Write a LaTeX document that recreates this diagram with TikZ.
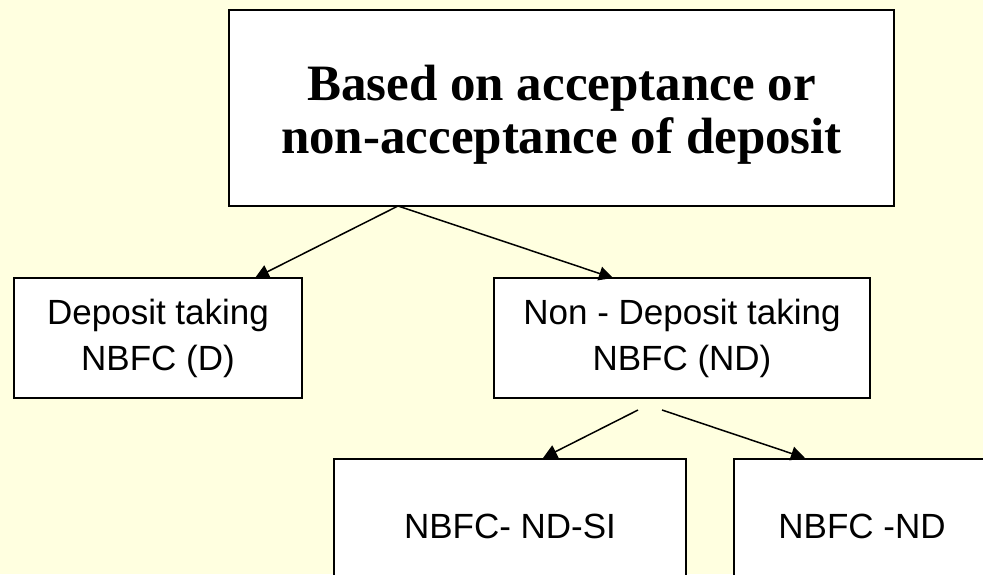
\documentclass[tikz,border=0pt]{standalone}
\usepackage{fontspec}
\setmainfont{Liberation Serif}
\setsansfont{Liberation Sans}
\usetikzlibrary{arrows.meta}
\definecolor{paper}{RGB}{255,255,224}

\begin{document}
\begin{tikzpicture}[x=1pt, y=-1pt,
    box/.style={draw, line width=1.8pt, fill=white, inner sep=0pt, align=center,
      font=\sffamily\fontsize{35}{46}\selectfont},
    link/.style={line width=1.5pt, -{Triangle[length=14pt,width=14pt]}}]
    % Background
    \fill[paper] (0,0) rectangle (983,574);
    \useasboundingbox (0,0) rectangle (983,574);
    \clip (0,0) rectangle (983,574);

    % Boxes
    \node[box, minimum width=665pt, minimum height=196pt,
      font=\rmfamily\bfseries\fontsize{51}{53}\selectfont] (top) at (561.5,108)
      {\rule{0pt}{48pt}Based on acceptance or\\non-acceptance of deposit};
    \node[box, minimum width=288pt, minimum height=120pt] (dep) at (158,338)
      {Deposit taking\\NBFC (D)};
    \node[box, minimum width=376pt, minimum height=120pt] (nondep) at (682,338)
      {Non - Deposit taking\\NBFC (ND)};
    \node[box, minimum width=352pt, minimum height=134pt] (ndsi) at (510,526) {NBFC- ND-SI};
    \node[box, minimum width=256pt, minimum height=134pt] (nd) at (862,526) {NBFC -ND};

    % Define points
    \coordinate (fork) at (398,206);
    \coordinate (depin) at (255,278);
    \coordinate (nondepin) at (613,278);
    \coordinate (forkl) at (638,410);
    \coordinate (forkr) at (662,410);
    \coordinate (ndsiin) at (543,458);
    \coordinate (ndin) at (805,458);

    % Draw arrows
    \draw[link] (fork) -- (depin);
    \draw[link] (fork) -- (nondepin);
    \draw[link] (forkl) -- (ndsiin);
    \draw[link] (forkr) -- (ndin);
\end{tikzpicture}
\end{document}
